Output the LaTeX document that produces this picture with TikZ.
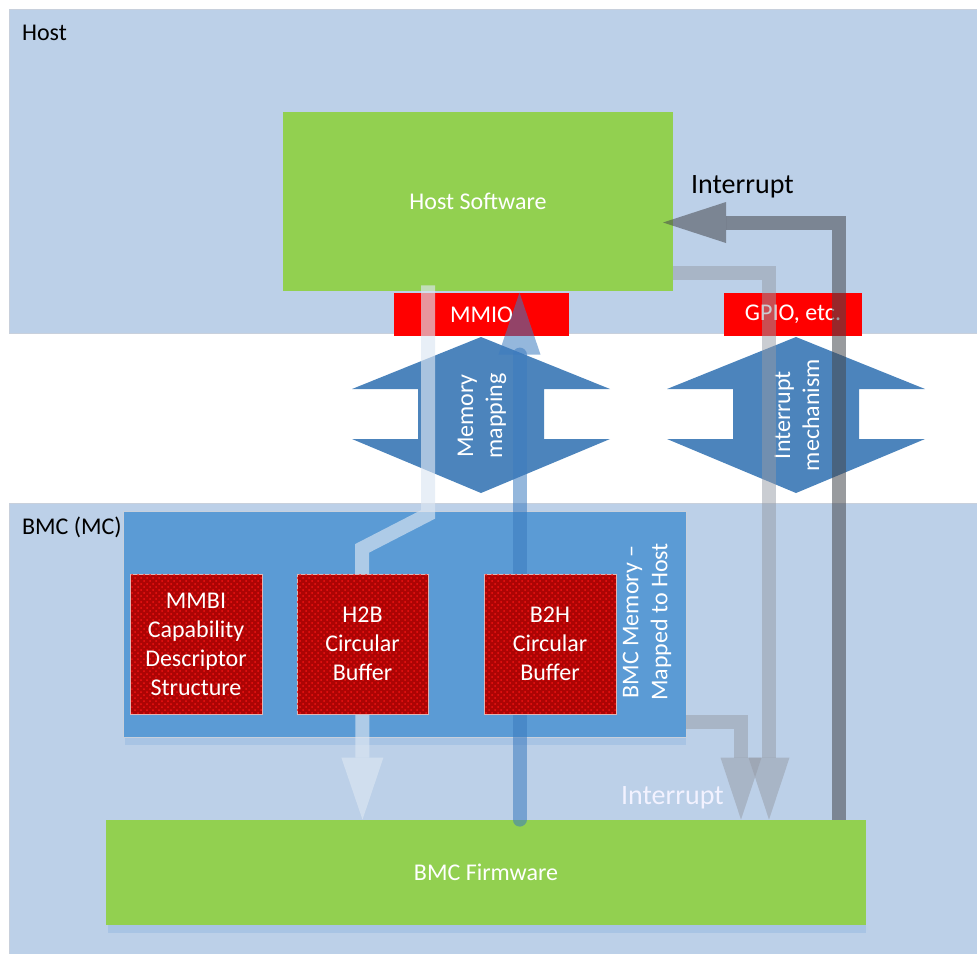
\documentclass[tikz,border=0pt]{standalone}
\usepackage{fontspec}
\setmainfont{Carlito}
\usepackage{tikz}
\usetikzlibrary{arrows.meta}
\usetikzlibrary{patterns}

\definecolor{hostblue}{RGB}{188,208,232}
\definecolor{edgegrey}{RGB}{200,208,220}
\definecolor{shadeblue}{RGB}{168,196,228}
\definecolor{swgreen}{RGB}{146,208,80}
\definecolor{memblue}{RGB}{91,155,213}
\definecolor{mapblue}{RGB}{76,132,188}
\definecolor{bufred}{RGB}{172,4,4}
\definecolor{dotred}{RGB}{240,20,20}
\definecolor{bufedge}{RGB}{225,180,180}
\definecolor{flowlight}{RGB}{220,230,242}
\definecolor{flowblue}{RGB}{60,123,191}
\definecolor{flowgrey}{RGB}{150,155,165}
\definecolor{flowdark}{RGB}{70,72,78}

\begin{document}
\begin{tikzpicture}[x=0.5pt,y=-0.5pt,
    every node/.style={font=\fontsize{12}{14.5}\selectfont},
    region/.style={fill=hostblue,draw=edgegrey,line width=0.4pt},
    greenbox/.style={fill=swgreen,text=white,inner sep=0pt},
    portbox/.style={fill=red,text=white,inner sep=0pt,minimum height=21.5pt},
    bufbox/.style={fill=bufred,draw=bufedge,line width=0.5pt,text=white,align=center,
        inner sep=0pt,minimum width=66pt,minimum height=70pt,
        postaction={pattern=crosshatch dots,pattern color=dotred}},
    vtext/.style={rotate=90,align=center,text=white},
    lightflow/.style={draw=flowlight,opacity=0.65,line width=7pt,
        -{Triangle[width=21pt,length=31pt,line width=0pt]}},
    blueflow/.style={draw=flowblue,opacity=0.55,line width=7pt,line cap=round,
        -{Triangle[width=21pt,length=31pt,line width=0pt]}},
    greyflow/.style={draw=flowgrey,opacity=0.5,line width=7pt,
        -{Triangle[width=20.5pt,length=31pt,line width=0pt]}},
    darkflow/.style={draw=flowdark,opacity=0.55,line width=7pt,
        -{Triangle[width=20.5pt,length=31.5pt,line width=0pt]}}
]
    \useasboundingbox (0,0) rectangle (977,953);

    % host and bmc areas
    \draw[region] (9,9) rectangle (990,333);
    \draw[region] (9,503) rectangle (990,990);
    \node[anchor=west] (hostlbl) at (15,33) {Host};
    \node[anchor=west] (bmclbl) at (15,527) {BMC (MC)};

    % boxes
    \node[greenbox,minimum width=195pt,minimum height=89.5pt] (hostsw) at (478,201.5) {Host Software};
    \node[portbox,minimum width=87.5pt] (mmio) at (481.5,314.5) {MMIO};
    \node[portbox,minimum width=69pt] (gpio) at (793,314.5) {GPIO, etc.};
    \fill[shadeblue] (125,737) rectangle (686,745);
    \node[fill=memblue,draw=edgegrey,line width=0.4pt,minimum width=281.5pt,minimum height=113pt] (mem) at (404.5,624) {};
    \node[vtext] (memtxt) at (647,622) {BMC Memory –\\Mapped to Host};
    \fill[shadeblue] (108,925) rectangle (866,933);
    \node[greenbox,minimum width=380pt,minimum height=52.5pt] (fw) at (486,872.5) {BMC Firmware};

    % two up-down links
    \fill[mapblue] (481,337) -- (610,389) -- (544,389) -- (544,439) -- (610,439) -- (481,493)
        -- (352,439) -- (418,439) -- (418,389) -- (352,389) -- cycle;
    \fill[mapblue] (796,337) -- (925,389) -- (859,389) -- (859,439) -- (925,439) -- (796,493)
        -- (667,439) -- (733,439) -- (733,389) -- (667,389) -- cycle;
    \node[vtext] (maptxt) at (482,416) {Memory\\mapping};
    \node[vtext] (irqtxt) at (797,415) {Interrupt\\mechanism};

    % track points
    \coordinate (h2btrack) at (362.5,0);
    \coordinate (b2htrack) at (519.5,0);
    \coordinate (irqcorner) at (838.5,222.5);
    \coordinate (irqend) at (663,222.5);
    \coordinate (swcorner) at (769,272.5);
    \coordinate (memcorner) at (741,722);

    % flows
    \draw[lightflow] ([xshift=-25pt,yshift=3pt]hostsw.south) -- ++(0,229) -- ++(-66,34) -- (h2btrack |- fw.north);
    \draw[blueflow] (fw.north -| b2htrack) -- (mmio.north -| b2htrack);
    \draw[darkflow] (fw.north -| irqcorner) -- (irqcorner) -- (irqend);
    \draw[greyflow] (hostsw.east |- swcorner) -- (swcorner) -- (swcorner |- fw.north);
    \draw[greyflow] (mem.east |- memcorner) -- (memcorner) -- (memcorner |- fw.north);

    % buffers
    \node[bufbox] (mmbi) at (196,644) {MMBI\\Capability\\Descriptor\\Structure};
    \node[bufbox,minimum width=65.5pt] (h2b) at (362.5,644) {H2B\\Circular\\Buffer};
    \node[bufbox] (b2h) at (550,644) {B2H\\Circular\\Buffer};

    \node[anchor=west,font=\fontsize{14}{16}\selectfont] (irqhost) at (684,187) {Interrupt};
    \node[anchor=west,font=\fontsize{14}{16}\selectfont,text=white!95!blue] (irqbmc) at (614,798) {Interrupt};
\end{tikzpicture}
\end{document}
